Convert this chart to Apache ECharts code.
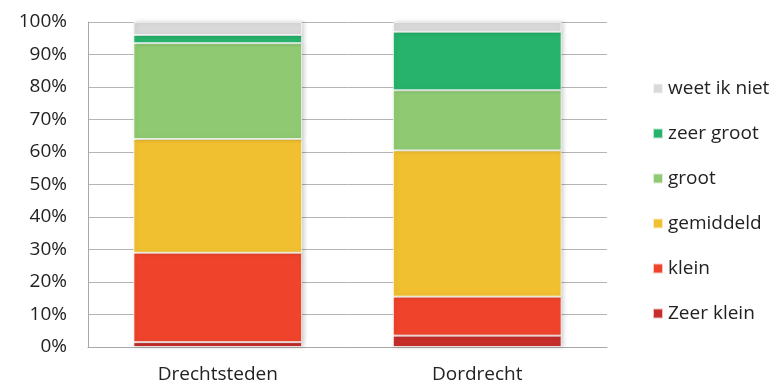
<!DOCTYPE html>
<html>
<head>
<meta charset="utf-8">
<script src="https://cdn.jsdelivr.net/npm/echarts@6/dist/echarts.min.js"></script>
<style>
  html, body { margin: 0; padding: 0; background: #fff; }
  #chart { width: 777px; height: 385px; }
</style>
</head>
<body>
<div id="chart"></div>
<script>
// Categories on the x axis
const categories = ['Drechtsteden', 'Dordrecht'];

// Percentages per answer (stacked bottom to top)
const zeerKlein  = [1.5, 3.5];
const klein      = [27.5, 12];
const gemiddeld  = [35, 45];
const groot      = [29.5, 18.5];
const zeerGroot  = [2.5, 18];
const weetIkNiet = [4, 3];

// Y axis ticks
const yTicks = [0, 10, 20, 30, 40, 50, 60, 70, 80, 90, 100];

const seriesDefs = [
  { name: 'Zeer klein',   data: zeerKlein,  color: '#c62d2b' },
  { name: 'klein',        data: klein,      color: '#ef442b' },
  { name: 'gemiddeld',    data: gemiddeld,  color: '#f0c030' },
  { name: 'groot',        data: groot,      color: '#8fca72' },
  { name: 'zeer groot',   data: zeerGroot,  color: '#27b36b' },
  { name: 'weet ik niet', data: weetIkNiet, color: '#d9d9d9' }
];

const font = 'Open Sans, Liberation Sans, sans-serif';

const chart = echarts.init(document.getElementById('chart'), null, { renderer: 'canvas' });
chart.setOption({
  animation: false,
  backgroundColor: '#ffffff',
  grid: { left: 88, right: 170, top: 22, bottom: 38, containLabel: false },
  legend: {
    orient: 'vertical',
    left: 647,
    top: 74,
    itemWidth: 10,
    itemHeight: 10,
    itemGap: 26,
    icon: 'rect',
    data: ['weet ik niet', 'zeer groot', 'groot', 'gemiddeld', 'klein', 'Zeer klein'],
    textStyle: { fontFamily: font, fontSize: 19, color: '#222', padding: [0, 0, 0, 0] }
  },
  xAxis: {
    type: 'category',
    data: categories,
    axisLine: { show: true, lineStyle: { color: '#a8a8a8', width: 1 } },
    axisTick: { show: false },
    axisLabel: { fontFamily: font, fontSize: 19, color: '#222', margin: 18 }
  },
  yAxis: {
    type: 'value',
    min: yTicks[0],
    max: yTicks[yTicks.length - 1],
    interval: 10,
    axisLine: { show: true, lineStyle: { color: '#a8a8a8', width: 1 } },
    axisTick: { show: false },
    splitLine: { lineStyle: { color: '#b4b4b4', width: 1 } },
    axisLabel: {
      fontFamily: font, fontSize: 19, color: '#222', margin: 21,
      formatter: v => v + '%'
    }
  },
  series: seriesDefs.map(s => ({
    name: s.name,
    type: 'bar',
    stack: 'total',
    data: s.data,
    barWidth: '65%',
    itemStyle: {
      color: s.color,
      borderColor: 'rgba(255,255,255,0.7)',
      borderWidth: 1,
      shadowColor: 'rgba(0,0,0,0.18)',
      shadowBlur: 4,
      shadowOffsetX: 2
    }
  }))
});
</script>
</body>
</html>
